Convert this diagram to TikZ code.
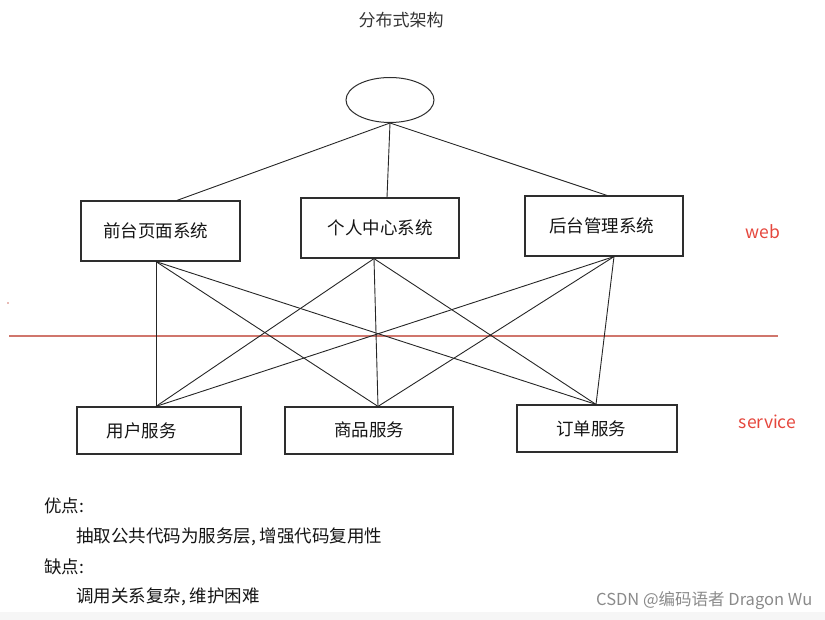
\documentclass[tikz,border=0pt]{standalone}
\usepackage{fontspec}
\setmainfont{Noto Sans CJK SC}
\usetikzlibrary{calc,shapes.geometric}

\definecolor{boxline}{HTML}{2E2E2E}
\definecolor{cutline}{HTML}{D0766C}
\definecolor{layertext}{HTML}{E5473D}
\definecolor{marktext}{HTML}{8A8A8A}

\tikzset{
  sysbox/.style={draw=boxline, line width=1.2pt, minimum width=158pt,
    minimum height=60pt, inner sep=0pt, text=black!92,
    font=\fontsize{17.5}{20}\selectfont},
  svcbox/.style={sysbox, minimum height=47pt},
  wire/.style={draw=black!85, line width=0.9pt},
  layer/.style={text=layertext, inner sep=0pt, font=\fontsize{17.5}{20}\selectfont},
  note/.style={anchor=west, inner sep=0pt, text=black!92,
    font=\fontsize{17.5}{20}\selectfont},
}

\begin{document}
\begin{tikzpicture}[x=1pt,y=-1pt]
    \useasboundingbox (0,0) rectangle (825,620);
    \fill[gray!7] (0,612) rectangle (825,620);

    \node[text=black!80, font=\fontsize{17}{20}\selectfont] (title) at (401,20) {分布式架构};
    \node[ellipse, draw=boxline, line width=1pt, minimum width=88pt,
          minimum height=45pt] (entry) at (390,100) {};

    % web layer
    \node[sysbox, minimum width=159pt] (qiantai) at (160.5,231) {\hspace*{-10pt}前台页面系统};
    \node[sysbox] (geren) at (380,228) {个人中心系统};
    \node[sysbox] (houtai) at (604,226) {\hspace*{-5pt}后台管理系统};

    % service layer
    \node[svcbox, minimum width=164pt] (yonghu) at (159,430.5) {\hspace*{-35pt}用户服务};
    \node[svcbox, minimum width=168pt] (shangpin) at (369,430.5) {\raisebox{3pt}{商品服务}};
    \node[svcbox, minimum width=160pt] (dingdan) at (597,428.5) {\hspace*{-12pt}订单服务};

    % where the lines meet the boxes
    \coordinate (qiantai-n) at ($(qiantai.north)+(16.5,0)$);
    \coordinate (geren-n) at ($(geren.north)+(7,0)$);
    \coordinate (houtai-n) at ($(houtai.north)+(3,0)$);
    \coordinate (qiantai-s) at ($(qiantai.south)+(-4.5,0)$);
    \coordinate (geren-s) at ($(geren.south)+(-6,0)$);
    \coordinate (houtai-s) at ($(houtai.south)+(10,0)$);
    \coordinate (yonghu-n) at ($(yonghu.north)+(-3,0)$);
    \coordinate (shangpin-n) at ($(shangpin.north)+(9,0)$);
    \coordinate (dingdan-n) at ($(dingdan.north)+(-1,0)$);

    \draw[cutline, line width=1.2pt] (9,336) -- (778,336);
    \fill[cutline] (8,303) circle (0.8);

    \foreach \t in {qiantai,geren,houtai}
      \draw[wire] (entry.south) -- (\t-n);
    \foreach \w in {qiantai,geren,houtai}
      \foreach \s in {yonghu,shangpin,dingdan}
        \draw[wire] (\w-s) -- (\s-n);

    \node[layer] (web) at (763,232) {web};
    \node[layer] (service) at (767.5,422) {service};

    \node[note] (pros) at (44,506) {优点:};
    \node[note] (prostext) at (76,537) {抽取公共代码为服务层, 增强代码复用性};
    \node[note] (cons) at (44,567) {缺点:};
    \node[note] (constext) at (76,597) {调用关系复杂, 维护困难};

    \node[anchor=west, inner sep=0pt, text=marktext,
          font=\fontsize{16.5}{19}\selectfont] (mark) at (596,601) {CSDN @编码语者 Dragon Wu};
\end{tikzpicture}
\end{document}
